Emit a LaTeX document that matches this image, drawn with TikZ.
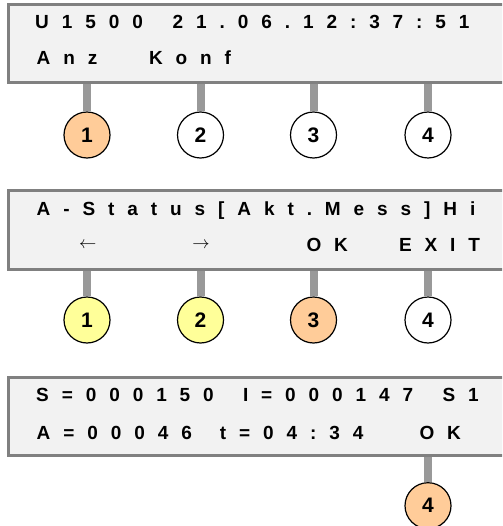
\documentclass[tikz,border=0pt]{standalone}
\usepackage{fontspec}
\setmainfont{Liberation Sans}
\newfontfamily\lcdfont[LetterSpace=68]{Liberation Sans Bold}
\newfontfamily\keyfont{Liberation Sans Bold}
\definecolor{peach}{HTML}{FFCC99}
\definecolor{lemon}{HTML}{FFFF99}
\definecolor{lcdback}{HTML}{F2F2F2}
\definecolor{lcdframe}{HTML}{808080}
\definecolor{stemgray}{HTML}{999999}

\begin{document}
\begin{tikzpicture}[x=1pt,y=-1pt,
  lcd/.style={draw=lcdframe,fill=lcdback,line width=3pt,anchor=north west,
    minimum width=520pt,minimum height=78pt,inner sep=0pt},
  txt/.style={anchor=base west,inner sep=0pt,
    font=\lcdfont\fontsize{19}{20}\selectfont},
  arr/.style={inner sep=0pt,font=\fontsize{18}{20}\selectfont},
  key/.style={circle,draw,line width=1.2pt,minimum size=46pt,inner sep=0pt,
    font=\keyfont\fontsize{21}{22}\selectfont},
  stem/.style={stemgray,line width=8pt}]
  \useasboundingbox (0,0) rectangle (502,526);
  \clip (0,0) rectangle (502,526);

  % display 1
  \node[lcd] (lcd1) at (7,3) {};
  \node[txt] (u) at (35,28.5) {U1500};
  \node[txt] (zeit) at (172.5,28.5) {21.06.12:37:51};
  \node[txt] (anz) at (36.5,65) {Anz};
  \node[txt] (konf) at (148.8,65) {Konf};
  \foreach \i/\x/\c in {1/87/peach,2/200.5/white,3/313.5/white,4/428/white} {
    \node[key,fill=\c] (ka\i) at (\x,135) {\i};
    \draw[stem] (ka\i.north) -- (ka\i.north |- lcd1.south);
  };

  % display 2
  \node[lcd] (lcd2) at (7,189.5) {};
  \node[txt] (status) at (36.5,215) {A-Status[Akt.Mess]Hi};
  \node[arr] (links) at (87.7,245.7) {$\leftarrow$};
  \node[arr] (rechts) at (201,245.7) {$\rightarrow$};
  \node[txt] (ok) at (306.3,251) {OK};
  \node[txt] (exit) at (398.8,251) {EXIT};
  \foreach \i/\x/\c in {1/87/lemon,2/200.5/lemon,3/313.5/peach,4/428/white} {
    \node[key,fill=\c] (kb\i) at (\x,320) {\i};
    \draw[stem] (kb\i.north) -- (kb\i.north |- lcd2.south);
  };

  % display 3
  \node[lcd] (lcd3) at (7,376) {};
  \node[txt] (soll) at (36,401.5) {S=000150};
  \node[txt] (ist) at (242.8,401.5) {I=000147};
  \node[txt] (sk) at (442.3,401.5) {S1};
  \node[txt] (aus) at (36.5,439) {A=00046};
  \node[txt] (dauer) at (219.6,439) {t=04:34};
  \node[txt] (okc) at (419.3,439) {OK};
  \node[key,fill=peach] (kc4) at (428,505.7) {4};
  \draw[stem] (kc4.north) -- (kc4.north |- lcd3.south);
\end{tikzpicture}
\end{document}
